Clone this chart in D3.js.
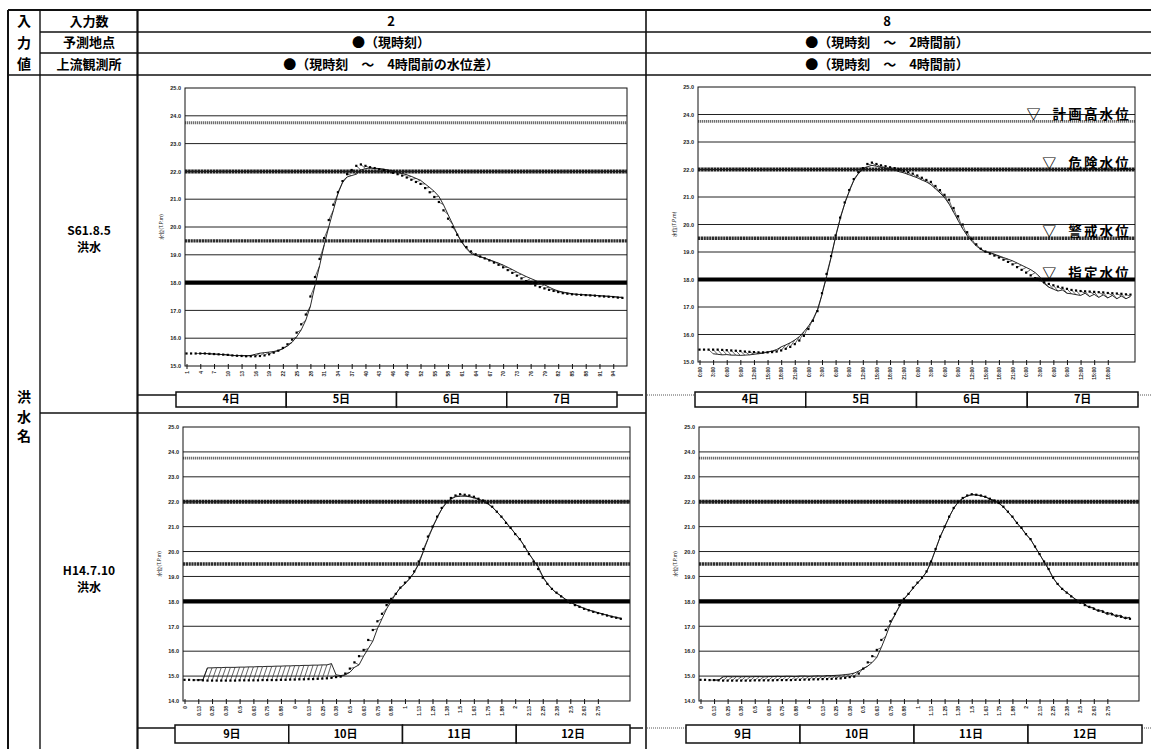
<!DOCTYPE html>
<html><head><meta charset="utf-8">
<script src="https://cdn.jsdelivr.net/npm/d3@7"></script>
<style>
body{margin:0;background:#fff}
svg{display:block}
text{font-family:"Noto Sans CJK JP","Noto Sans",sans-serif}
.tk text{font-family:"Liberation Sans",Arial,sans-serif;font-weight:bold}
</style>
</head><body>
<svg id="c" width="1151" height="749"></svg>
<script>
// ---------------- DATA ----------------
const inputCounts = ["2", "8"];
const pointInputs = ["●（現時刻）", "●（現時刻　～　2時間前）"];
const upstreamInputs = ["●（現時刻　～　4時間前の水位差）", "●（現時刻　～　4時間前）"];
const headerRowLabels = ["入力数", "予測地点", "上流観測所"];
const sideTop = ["入", "力", "値"];
const sideBody = ["洪", "水", "名"];
const floodNames = [["S61.8.5", "洪水"], ["H14.7.10", "洪水"]];
const yTitle = "水位(T.P.m)";

// observed water level, hourly (S61.8.5 flood)
const obsS61 = [15.45,15.45,15.45,15.45,15.45,15.44,15.43,15.42,15.41,15.40,
 15.38,15.37,15.36,15.35,15.35,15.35,15.36,15.38,15.42,15.48,
 15.55,15.65,15.78,15.95,16.2,16.5,16.85,17.5,18.2,18.85,
 19.6,20.25,20.8,21.25,21.65,21.9,22.05,22.2,22.25,22.2,
 22.15,22.12,22.08,22.05,22.0,21.95,21.9,21.85,21.78,21.7,
 21.62,21.55,21.4,21.25,21.08,20.9,20.6,20.3,20.0,19.72,
 19.48,19.28,19.12,19.02,18.94,18.87,18.8,18.72,18.64,18.55,
 18.45,18.35,18.25,18.15,18.05,17.98,17.9,17.84,17.79,17.74,
 17.7,17.66,17.62,17.6,17.58,17.57,17.56,17.55,17.54,17.53,
 17.51,17.5,17.49,17.48,17.46,17.45];
// predicted water level for hours 3..95 (input count 2)
const predS61_in2 = [15.45,15.45,15.44,15.43,15.42,15.41,15.40,15.38,15.37,
 15.38,15.37,15.38,15.42,15.46,15.48,15.5,15.52,15.56,15.62,15.72,
 15.85,16.05,16.3,16.65,17.15,17.9,18.6,19.35,
 20.0,20.6,21.2,21.6,21.8,21.85,
 21.9,22.05,22.1,22.12,22.1,
 22.1,22.08,22.05,22.02,21.98,21.93,21.88,
 21.82,21.75,21.68,21.55,21.42,21.28,21.1,
 20.8,20.45,20.1,19.75,19.45,19.22,19.05,18.98,
 18.92,18.88,18.82,18.76,18.7,18.63,18.55,18.47,18.38,18.3,
 18.22,18.15,18.08,18.0,17.92,17.84,17.76,17.7,17.66,17.63,
 17.6,17.58,17.57,17.56,17.55,17.54,17.53,17.52,17.51,17.5,17.48,17.47];
// predicted water level for hours 3..95 (input count 8)
const predS61_in8 = [15.3,15.28,15.26,15.27,
 15.25,15.25,15.24,15.25,15.26,
 15.28,15.3,15.32,15.36,15.4,15.45,
 15.55,15.62,15.7,15.8,15.92,
 16.1,16.3,16.55,16.9,17.45,18.1,18.8,19.55,
 20.2,20.75,21.2,21.6,21.85,22.0,
 22.1,22.15,22.12,22.08,22.05,
 22.0,21.98,21.92,21.88,21.82,21.76,21.7,
 21.62,21.55,21.45,21.3,21.15,20.98,20.75,
 20.45,20.15,19.85,19.6,19.4,19.22,19.1,19.0,
 18.98,18.92,18.86,18.8,18.74,18.68,18.6,18.52,18.44,18.36,
 18.25,18.1,17.85,17.72,17.65,17.58,17.62,17.5,17.48,17.45,
 17.42,17.5,17.38,17.46,17.35,17.44,17.33,17.42,17.3,17.4,17.3,17.38];

// observed water level, hourly (H14.7.10 flood)
const obsH14 = [14.85,14.85,14.84,14.84,14.83,
 14.82,14.82,14.82,14.82,14.82,14.82,14.82,14.83,14.83,14.83,14.83,14.83,14.84,14.84,14.84,14.84,
 14.85,14.85,14.86,14.86,14.87,14.87,14.88,14.88,14.89,14.9,14.91,
 14.93,14.96,14.98,15.1,15.3,15.55,15.8,16.05,16.45,16.85,
 17.2,17.5,17.85,18.1,18.3,18.55,18.75,18.95,19.2,19.6,
 20.1,20.6,21.0,21.4,21.75,22.0,22.15,22.25,22.3,22.28,
 22.25,22.2,22.12,22.05,21.95,21.8,21.6,21.4,21.15,20.95,
 20.7,20.5,20.2,19.9,19.6,19.3,18.95,18.7,18.5,18.35,
 18.2,18.05,17.95,17.85,17.78,17.7,17.64,17.58,17.53,17.48,
 17.43,17.38,17.34,17.3];
const predH14_in2 = [14.85,14.85,15.33,
 15.33,15.34,15.34,15.35,15.35,15.35,15.36,15.36,15.37,15.37,15.38,15.38,15.39,
 15.39,15.4,15.4,15.41,15.41,15.42,15.42,15.43,15.43,15.44,15.44,15.45,15.45,
 15.5,15.05,15.02,15.05,15.15,15.35,15.45,15.8,16.1,16.4,
 16.9,17.3,17.7,18.0,18.3,18.55,18.7,18.9,19.15,19.5,
 20.0,20.5,20.95,21.35,21.7,21.95,22.1,22.2,22.22,22.22,
 22.2,22.15,22.1,22.02,21.92,21.78,21.6,21.4,21.18,20.95,
 20.72,20.5,20.22,19.92,19.65,19.4,19.0,18.72,18.5,18.33,
 18.22,18.08,17.97,17.88,17.8,17.72,17.66,17.6,17.55,17.5,
 17.45,17.4,17.36,17.32];
const predH14_in8 = [14.84,14.84,
 14.97,14.98,14.97,14.98,14.97,14.98,14.97,14.98,14.98,14.97,14.98,14.98,14.99,14.98,
 14.99,14.99,14.98,15.0,15.0,14.99,15.0,15.01,15.0,15.02,15.02,15.03,15.04,
 15.06,15.08,15.12,15.2,15.3,15.4,15.55,15.75,16.15,16.6,
 17.1,17.45,17.8,18.08,18.3,18.52,18.73,18.93,19.18,19.58,
 20.08,20.58,20.98,21.38,21.73,21.98,22.13,22.23,22.28,22.27,
 22.24,22.19,22.11,22.04,21.94,21.79,21.59,21.39,21.14,20.94,
 20.69,20.49,20.19,19.89,19.59,19.29,18.94,18.69,18.5,18.36,
 18.22,18.08,17.98,17.9,17.75,17.74,17.6,17.63,17.47,17.53,
 17.38,17.44,17.3,17.36];
const predStart = 3;

// x tick labels (every 3 hours)
const ticksS61_in2 = ["1","4","7","10","13","16","19","22","25","28","31","34","37","40","43","46",
 "49","52","55","58","61","64","67","70","73","76","79","82","85","88","91","94"];
const ticksS61_in8 = ["0:00","3:00","6:00","9:00","12:00","15:00","18:00","21:00",
 "0:00","3:00","6:00","9:00","12:00","15:00","18:00","21:00",
 "0:00","3:00","6:00","9:00","12:00","15:00","18:00","21:00",
 "0:00","3:00","6:00","9:00","12:00","15:00","18:00"];
const ticksH14 = ["0","0.13","0.25","0.38","0.5","0.63","0.75","0.88",
 "0","0.13","0.25","0.38","0.5","0.63","0.75","0.88",
 "1","1.13","1.25","1.38","1.5","1.63","1.75","1.88",
 "2","2.13","2.25","2.38","2.5","2.63","2.75"];
const daysS61 = ["4日", "5日", "6日", "7日"];
const daysH14 = ["9日", "10日", "11日", "12日"];

// reference water levels
const refLevels = [23.75, 22.0, 19.5, 18.0];
const refNames = ["計画高水位", "危険水位", "警戒水位", "指定水位"];

// ---------------- LAYOUT ----------------
const svg = d3.select("#c");
const ink = "#111";

const panels = [
  {x0:185, x1:627, y0:88, y1:366, yMin:15, hours:96, obs:obsS61, pred:predS61_in2, ticks:ticksS61_in2, days:daysS61, box:[176,617,392,407], solidLink:true, labels:false},
  {x0:698, x1:1135, y0:87, y1:362, yMin:15, hours:96, obs:obsS61, pred:predS61_in8, ticks:ticksS61_in8, days:daysS61, box:[695,1138,392,407], solidLink:false, labels:true},
  {x0:183, x1:630, y0:427, y1:701, yMin:14, hours:97, obs:obsH14, pred:predH14_in2, ticks:ticksH14, days:daysH14, box:[175,630,725,743], solidLink:true, labels:false},
  {x0:699, x1:1139, y0:427, y1:701, yMin:14, hours:97, obs:obsH14, pred:predH14_in8, ticks:ticksH14, days:daysH14, box:[686,1142,725,743], solidLink:false, labels:false}
];

// ---------------- TABLE ----------------
const T = svg.append("g");
function hl(x1,x2,y,w,dash){T.append("line").attr("x1",x1).attr("x2",x2).attr("y1",y).attr("y2",y).attr("stroke",ink).attr("stroke-width",w||1.2).attr("stroke-dasharray",dash||null);}
function vl(x,y1,y2,w,dash){T.append("line").attr("x1",x).attr("x2",x).attr("y1",y1).attr("y2",y2).attr("stroke",ink).attr("stroke-width",w||1.2).attr("stroke-dasharray",dash||null);}
hl(8,1151,10,2);
hl(40,1151,32,1.3);
hl(40,1151,53,1.3);
hl(8,1151,75,1.6);
vl(8,10,749,2);
vl(40,10,749,1.4);
vl(137.5,10,749,2.2);
vl(646,10,749,1.6);
hl(40,646,413,1.4);

const colC = [391, 887];
const hdrY = [21, 42.5, 64];
headerRowLabels.forEach((s,i)=>{
  T.append("text").attr("x",89).attr("y",hdrY[i]).attr("dy","0.36em").attr("text-anchor","middle")
   .attr("font-size",13).attr("font-weight",700).text(s);
});
sideTop.forEach((s,i)=>{
  T.append("text").attr("x",24).attr("y",hdrY[i]).attr("dy","0.36em").attr("text-anchor","middle")
   .attr("font-size",14).attr("font-weight",700).text(s);
});
sideBody.forEach((s,i)=>{
  T.append("text").attr("x",24).attr("y",397+i*19.5).attr("dy","0.36em").attr("text-anchor","middle")
   .attr("font-size",14).attr("font-weight",700).text(s);
});
[inputCounts, pointInputs, upstreamInputs].forEach((row,r)=>{
  row.forEach((s,c)=>{
    T.append("text").attr("x",colC[c]).attr("y",hdrY[r]).attr("dy","0.36em").attr("text-anchor","middle")
     .attr("font-size",13).attr("font-weight",700).text(s);
  });
});
const floodY = [231, 571];
floodNames.forEach((nm,i)=>{
  nm.forEach((s,k)=>{
    T.append("text").attr("x",89).attr("y",floodY[i]+k*17).attr("dy","0.36em").attr("text-anchor","middle")
     .attr("font-size",12).attr("font-weight",700).text(s);
  });
});

// ---------------- CHARTS ----------------
const refStyle = [
  {c:"#6e6e6e", w:2.8, d:"1.3,0.7"},
  {c:"#1c1c1c", w:4, d:"2.6,0.5"},
  {c:"#2e2e2e", w:3.4, d:"2.2,0.6"},
  {c:"#000", w:4.2, d:null}
];

panels.forEach((p,pi)=>{
  const g = svg.append("g");
  const x = d3.scaleLinear().domain([0, p.hours]).range([p.x0+1.5, p.x1]);
  const y = d3.scaleLinear().domain([p.yMin, 25]).range([p.y1, p.y0]);
  const cid = "clip"+pi;
  svg.append("clipPath").attr("id",cid).append("rect")
     .attr("x",p.x0).attr("y",p.y0).attr("width",p.x1-p.x0).attr("height",p.y1-p.y0);

  // grid
  g.append("g").selectAll("line").data(d3.range(p.yMin+1, 25, 1)).join("line")
   .attr("x1",p.x0).attr("x2",p.x1).attr("y1",d=>y(d)).attr("y2",d=>y(d))
   .attr("stroke","#222").attr("stroke-width",1);

  // reference levels
  g.append("g").selectAll("line").data(refLevels).join("line")
   .attr("x1",p.x0).attr("x2",p.x1).attr("y1",d=>y(d)).attr("y2",d=>y(d))
   .attr("stroke",(d,i)=>refStyle[i].c).attr("stroke-width",(d,i)=>refStyle[i].w)
   .attr("stroke-dasharray",(d,i)=>refStyle[i].d);

  // frame
  g.append("rect").attr("x",p.x0).attr("y",p.y0).attr("width",p.x1-p.x0).attr("height",p.y1-p.y0)
   .attr("fill","none").attr("stroke",ink).attr("stroke-width",1);

  const plot = g.append("g").attr("clip-path","url(#"+cid+")");
  const predPts = p.pred.map((v,k)=>({t:k+predStart, v:v}));
  // forecast traces (from observed at t-1 to predicted at t)
  plot.append("g").selectAll("line").data(predPts).join("line")
   .attr("x1",d=>x(d.t-1)).attr("y1",d=>y(p.obs[d.t-1]))
   .attr("x2",d=>x(d.t)).attr("y2",d=>y(d.v))
   .attr("stroke","#222").attr("stroke-width",0.7);
  // forecast line
  plot.append("path").datum(predPts)
   .attr("d", d3.line().x(d=>x(d.t)).y(d=>y(d.v)))
   .attr("fill","none").attr("stroke","#111").attr("stroke-width",0.9);
  // observed points
  plot.append("g").selectAll("rect").data(p.obs).join("rect")
   .attr("x",(d,k)=>x(k)-1.1).attr("y",d=>y(d)-1.1).attr("width",2.2).attr("height",2.2)
   .attr("fill","#000");

  // y axis
  const ya = g.append("g").attr("class","tk").attr("transform","translate("+p.x0+",0)")
   .call(d3.axisLeft(y).tickValues(d3.range(p.yMin, 25.01, 1)).tickFormat(d3.format(".1f")).tickSize(0).tickPadding(4));
  ya.select(".domain").remove();
  ya.selectAll("text").attr("font-size",5.5).attr("fill","#222");
  g.append("text").attr("transform","translate("+(p.x0-22)+","+((p.y0+p.y1)/2)+") rotate(-90)")
   .attr("text-anchor","middle").attr("font-size",5).attr("fill","#222").text(yTitle);

  // x axis
  const xa = g.append("g").attr("class","tk").attr("transform","translate(0,"+p.y1+")")
   .call(d3.axisBottom(x).tickValues(p.ticks.map((s,k)=>k*3)).tickFormat((d,k)=>p.ticks[k]).tickSize(3));
  xa.select(".domain").remove();
  xa.selectAll(".tick line").attr("y1",-2).attr("stroke",ink);
  xa.selectAll("text").attr("transform","rotate(-90)").attr("x",-5).attr("y",0).attr("dy","0.35em")
    .style("text-anchor","end").attr("font-size",5).attr("fill","#222");

  // day boxes
  const bx = d3.scaleLinear().domain([0, p.days.length]).range([p.box[0], p.box[1]]);
  const bh = p.box[3]-p.box[2];
  const linkY = p.box[2] + 3;
  if (p.solidLink) {
    g.append("line").attr("x1",137.5).attr("x2",p.box[0]).attr("y1",linkY).attr("y2",linkY).attr("stroke",ink).attr("stroke-width",1.5);
    g.append("line").attr("x1",p.box[1]).attr("x2",643).attr("y1",linkY).attr("y2",linkY).attr("stroke",ink).attr("stroke-width",1.5);
  } else {
    g.append("line").attr("x1",647).attr("x2",p.box[0]).attr("y1",linkY).attr("y2",linkY).attr("stroke","#555").attr("stroke-width",1).attr("stroke-dasharray","1,1");
    g.append("line").attr("x1",p.box[1]).attr("x2",1151).attr("y1",linkY).attr("y2",linkY).attr("stroke","#555").attr("stroke-width",1).attr("stroke-dasharray","1,1");
  }
  g.append("g").selectAll("rect").data(p.days).join("rect")
   .attr("x",(d,k)=>bx(k)).attr("y",p.box[2]).attr("width",(d,k)=>bx(k+1)-bx(k)).attr("height",bh)
   .attr("fill","#fff").attr("stroke",ink).attr("stroke-width",1.5);
  g.append("g").selectAll("text").data(p.days).join("text")
   .attr("x",(d,k)=>(bx(k)+bx(k+1))/2).attr("y",p.box[2]+bh/2).attr("dy","0.36em")
   .attr("text-anchor","middle").attr("font-size",11).attr("font-weight",700).text(d=>d);

  // reference level labels
  if (p.labels) {
    refNames.forEach((nm,i)=>{
      const ty = y(refLevels[i]) - 2;
      const t = g.append("text").attr("x",1131).attr("y",ty).attr("text-anchor","end")
        .attr("font-size",13.5).attr("font-weight",700).attr("letter-spacing",2.2).text(nm);
      const len = t.node().getComputedTextLength();
      g.append("text").attr("x",1131-len-12).attr("y",ty).attr("text-anchor","end")
        .attr("font-size",14).attr("font-weight",700).text("▽");
    });
  }
});
</script>
</body></html>
